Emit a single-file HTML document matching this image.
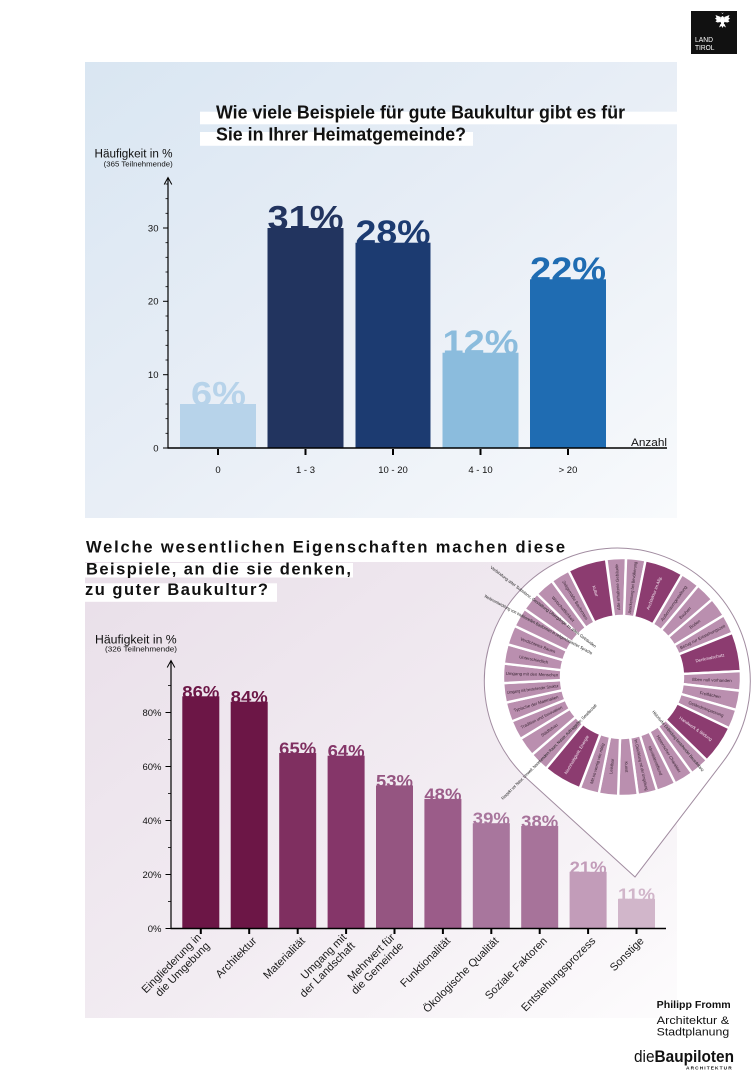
<!DOCTYPE html>
<html>
<head>
<meta charset="utf-8">
<style>
html,body{margin:0;padding:0;background:#fff;}
svg{display:block;}
text{font-family:"Liberation Sans",Arial,sans-serif;}
</style>
</head>
<body>
<svg width="756" height="1080" viewBox="0 0 756 1080" xmlns="http://www.w3.org/2000/svg">
<defs>
<linearGradient id="gb" x1="0" y1="0" x2="1" y2="1">
<stop offset="0" stop-color="#d9e6f2"/>
<stop offset="0.5" stop-color="#e8eef6"/>
<stop offset="1" stop-color="#f8fafc"/>
</linearGradient>
<linearGradient id="gp" x1="0" y1="0" x2="1" y2="1">
<stop offset="0" stop-color="#e9dfe9"/>
<stop offset="0.55" stop-color="#f2ecf2"/>
<stop offset="1" stop-color="#fdfcfd"/>
</linearGradient>
<path id="L" d="M-5.037,-60.79 L-9.827,-118.59 A119,119 0 0 1 9.827,-118.59 L5.037,-60.79 A61,61 0 0 0 -5.037,-60.79 Z" fill="#ba8faf" stroke="#fff" stroke-width="2.4"/>
<path id="D" d="M-10.04,-60.168 L-19.586,-117.377 A119,119 0 0 1 19.586,-117.377 L10.04,-60.168 A61,61 0 0 0 -10.04,-60.168 Z" fill="#8c3c70" stroke="#fff" stroke-width="2.4"/>
</defs>

<!-- LAND TIROL logo -->
<rect x="691" y="11" width="46" height="43" fill="#111"/>
<g fill="#fff">
<ellipse cx="722.5" cy="20.5" rx="2" ry="4.5"/>
<path d="M722.5,14 l-1.2,-1.5 l1.2,0.6 l1.2,-0.6 z"/>
<path d="M720.8,17 L715.5,15 L716.5,17.5 L715,18.5 L716.8,20 L715.5,21.5 L717.5,22.5 L720.8,22 Z"/>
<path d="M724.2,17 L729.5,15 L728.5,17.5 L730,18.5 L728.2,20 L729.5,21.5 L727.5,22.5 L724.2,22 Z"/>
<path d="M720.5,24 L719,27.5 L721.5,26 L722.5,28 L723.5,26 L726,27.5 L724.5,24 Z"/>
</g>
<text x="695" y="42" font-size="7.6" fill="#fff" textLength="18" lengthAdjust="spacingAndGlyphs">LAND</text>
<text x="695" y="50" font-size="7.6" fill="#fff" textLength="19.5" lengthAdjust="spacingAndGlyphs">TIROL</text>

<!-- ============ TOP CHART ============ -->
<rect x="85" y="62" width="592" height="456" fill="url(#gb)"/>
<rect x="200" y="111.7" width="477" height="12.6" fill="#fff"/>
<rect x="200" y="132" width="273" height="13.8" fill="#fff"/>
<text x="216" y="118.5" font-size="18" font-weight="bold" fill="#111" textLength="409" lengthAdjust="spacingAndGlyphs">Wie viele Beispiele für gute Baukultur gibt es für</text>
<text x="216" y="140.5" font-size="18" font-weight="bold" fill="#111" textLength="250" lengthAdjust="spacingAndGlyphs">Sie in Ihrer Heimatgemeinde?</text>

<text x="94.5" y="157.5" font-size="11.5" fill="#111" textLength="78" lengthAdjust="spacingAndGlyphs">Häufigkeit in %</text>
<text x="103.7" y="166.5" font-size="7.3" fill="#111" textLength="69" lengthAdjust="spacingAndGlyphs">(365 Teilnehmende)</text>

<!-- bar labels (behind bars) -->
<g font-weight="bold" font-size="34">
<text x="191" y="405.5" fill="#b7d3ea" textLength="55" lengthAdjust="spacingAndGlyphs">6%</text>
<text x="267.5" y="229.5" fill="#22345f" textLength="76" lengthAdjust="spacingAndGlyphs">31%</text>
<text x="355.5" y="244.2" fill="#1c3b71" textLength="75" lengthAdjust="spacingAndGlyphs">28%</text>
<text x="442.5" y="354.2" fill="#8bbcdd" textLength="76" lengthAdjust="spacingAndGlyphs">12%</text>
<text x="530" y="280.8" fill="#1f6cb2" textLength="76" lengthAdjust="spacingAndGlyphs">22%</text>
</g>
<rect x="180" y="404" width="76" height="44" fill="#b7d3ea"/>
<rect x="267.5" y="228" width="76" height="220" fill="#22345f"/>
<rect x="355.5" y="242.7" width="75" height="205.3" fill="#1c3b71"/>
<rect x="442.5" y="352.7" width="76" height="95.3" fill="#8bbcdd"/>
<rect x="530" y="279.3" width="76" height="168.7" fill="#1f6cb2"/>

<!-- axes -->
<g stroke="#000" fill="none">
<line x1="168" y1="178" x2="168" y2="448.5" stroke-width="1.2"/>
<polyline points="164.2,184.5 168,177.5 171.8,184.5" stroke-width="1"/>
<line x1="167.5" y1="448" x2="667" y2="448" stroke-width="1.6"/>
<g stroke-width="1">
<line x1="163" y1="448" x2="168" y2="448"/>
<line x1="163" y1="374.7" x2="168" y2="374.7"/>
<line x1="163" y1="301.3" x2="168" y2="301.3"/>
<line x1="163" y1="228" x2="168" y2="228"/>
</g>
<g stroke-width="0.8">
<line x1="165.5" y1="433.3" x2="168" y2="433.3"/>
<line x1="165.5" y1="418.7" x2="168" y2="418.7"/>
<line x1="165.5" y1="404" x2="168" y2="404"/>
<line x1="165.5" y1="389.3" x2="168" y2="389.3"/>
<line x1="165.5" y1="360" x2="168" y2="360"/>
<line x1="165.5" y1="345.3" x2="168" y2="345.3"/>
<line x1="165.5" y1="330.7" x2="168" y2="330.7"/>
<line x1="165.5" y1="316" x2="168" y2="316"/>
<line x1="165.5" y1="286.7" x2="168" y2="286.7"/>
<line x1="165.5" y1="272" x2="168" y2="272"/>
<line x1="165.5" y1="257.3" x2="168" y2="257.3"/>
<line x1="165.5" y1="242.7" x2="168" y2="242.7"/>
<line x1="165.5" y1="213.3" x2="168" y2="213.3"/>
<line x1="165.5" y1="198.7" x2="168" y2="198.7"/>
<line x1="165.5" y1="184" x2="168" y2="184"/>
</g>
<g stroke-width="2">
<line x1="218" y1="449" x2="218" y2="455"/>
<line x1="305.5" y1="449" x2="305.5" y2="455"/>
<line x1="393" y1="449" x2="393" y2="455"/>
<line x1="480.5" y1="449" x2="480.5" y2="455"/>
<line x1="568" y1="449" x2="568" y2="455"/>
</g>
</g>
<g font-size="9.5" fill="#111" text-anchor="end">
<text x="158.5" y="451.3">0</text>
<text x="158.5" y="378">10</text>
<text x="158.5" y="304.6">20</text>
<text x="158.5" y="231.3">30</text>
</g>
<g font-size="9.5" fill="#111" text-anchor="middle">
<text x="218" y="473">0</text>
<text x="305.5" y="473">1 - 3</text>
<text x="393" y="473">10 - 20</text>
<text x="480.5" y="473">4 - 10</text>
<text x="568" y="473">&gt; 20</text>
</g>
<text x="631" y="446" font-size="11" fill="#111" textLength="36" lengthAdjust="spacingAndGlyphs">Anzahl</text>

<!-- ============ BOTTOM CHART ============ -->
<rect x="85" y="562" width="592" height="456" fill="url(#gp)"/>
<rect x="80" y="563" width="273" height="14.5" fill="#fff"/>
<rect x="80" y="583.3" width="197" height="18.5" fill="#fff"/>
<text x="86" y="552.7" font-size="16.5" font-weight="bold" fill="#111" textLength="479" lengthAdjust="spacing">Welche wesentlichen Eigenschaften machen diese</text>
<text x="86" y="574.3" font-size="16.5" font-weight="bold" fill="#111" textLength="265" lengthAdjust="spacing">Beispiele, an die sie denken,</text>
<text x="85" y="595" font-size="16.5" font-weight="bold" fill="#111" textLength="183" lengthAdjust="spacing">zu guter Baukultur?</text>

<text x="95" y="643.3" font-size="11.5" fill="#111" textLength="81.7" lengthAdjust="spacingAndGlyphs">Häufigkeit in %</text>
<text x="105" y="651.7" font-size="7.3" fill="#111" textLength="72" lengthAdjust="spacingAndGlyphs">(326 Teilnehmende)</text>

<!-- bar labels -->
<g font-weight="bold" font-size="17.5">
<text x="182.3" y="697.8" fill="#6c1646" textLength="37" lengthAdjust="spacingAndGlyphs">86%</text>
<text x="230.7" y="703.2" fill="#6c1646" textLength="37" lengthAdjust="spacingAndGlyphs">84%</text>
<text x="279.2" y="754.5" fill="#7f2f60" textLength="37" lengthAdjust="spacingAndGlyphs">65%</text>
<text x="327.6" y="757.2" fill="#853669" textLength="37" lengthAdjust="spacingAndGlyphs">64%</text>
<text x="376" y="786.9" fill="#955581" textLength="37" lengthAdjust="spacingAndGlyphs">53%</text>
<text x="424.4" y="800.4" fill="#9b5c89" textLength="37" lengthAdjust="spacingAndGlyphs">48%</text>
<text x="472.8" y="824.7" fill="#a8769d" textLength="37" lengthAdjust="spacingAndGlyphs">39%</text>
<text x="521.2" y="827.4" fill="#a7739a" textLength="37" lengthAdjust="spacingAndGlyphs">38%</text>
<text x="569.6" y="873.3" fill="#c29cb9" textLength="37" lengthAdjust="spacingAndGlyphs">21%</text>
<text x="618" y="900.3" fill="#d1b6ca" textLength="37" lengthAdjust="spacingAndGlyphs">11%</text>
</g>
<rect x="182.3" y="696.3" width="37" height="232.2" fill="#6c1646"/>
<rect x="230.7" y="701.7" width="37" height="226.8" fill="#6c1646"/>
<rect x="279.2" y="753" width="37" height="175.5" fill="#7f2f60"/>
<rect x="327.6" y="755.7" width="37" height="172.8" fill="#853669"/>
<rect x="376" y="785.4" width="37" height="143.1" fill="#955581"/>
<rect x="424.4" y="798.9" width="37" height="129.6" fill="#9b5c89"/>
<rect x="472.8" y="823.2" width="37" height="105.3" fill="#a8769d"/>
<rect x="521.2" y="825.9" width="37" height="102.6" fill="#a7739a"/>
<rect x="569.6" y="871.8" width="37" height="56.7" fill="#c29cb9"/>
<rect x="618" y="898.8" width="37" height="29.7" fill="#d1b6ca"/>

<g stroke="#000" fill="none">
<line x1="171" y1="661" x2="171" y2="929" stroke-width="1.2"/>
<polyline points="167.2,667.5 171,660.5 174.8,667.5" stroke-width="1"/>
<line x1="170.5" y1="928.5" x2="666" y2="928.5" stroke-width="1.6"/>
<g stroke-width="1">
<line x1="165.5" y1="928.5" x2="171" y2="928.5"/>
<line x1="165.5" y1="874.5" x2="171" y2="874.5"/>
<line x1="165.5" y1="820.5" x2="171" y2="820.5"/>
<line x1="165.5" y1="766.5" x2="171" y2="766.5"/>
<line x1="165.5" y1="712.5" x2="171" y2="712.5"/>
</g>
<g stroke-width="0.8">
<line x1="168" y1="901.5" x2="171" y2="901.5"/>
<line x1="168" y1="847.5" x2="171" y2="847.5"/>
<line x1="168" y1="793.5" x2="171" y2="793.5"/>
<line x1="168" y1="739.5" x2="171" y2="739.5"/>
<line x1="168" y1="685.5" x2="171" y2="685.5"/>
</g>
<g stroke-width="2">
<line x1="200.8" y1="929" x2="200.8" y2="934"/>
<line x1="249.2" y1="929" x2="249.2" y2="934"/>
<line x1="297.7" y1="929" x2="297.7" y2="934"/>
<line x1="346.1" y1="929" x2="346.1" y2="934"/>
<line x1="394.5" y1="929" x2="394.5" y2="934"/>
<line x1="442.9" y1="929" x2="442.9" y2="934"/>
<line x1="491.3" y1="929" x2="491.3" y2="934"/>
<line x1="539.7" y1="929" x2="539.7" y2="934"/>
<line x1="588.1" y1="929" x2="588.1" y2="934"/>
<line x1="636.5" y1="929" x2="636.5" y2="934"/>
</g>
</g>
<g font-size="9.5" fill="#111" text-anchor="end">
<text x="161.5" y="931.8">0%</text>
<text x="161.5" y="877.8">20%</text>
<text x="161.5" y="823.8">40%</text>
<text x="161.5" y="769.8">60%</text>
<text x="161.5" y="715.8">80%</text>
</g>

<!-- x labels -->
<g font-size="11" fill="#1a1a1a" text-anchor="end">
<text transform="translate(201.8,938) rotate(-45)">Eingliederung in</text>
<text transform="translate(210.3,946.5) rotate(-45)">die Umgebung</text>
<text transform="translate(257.2,941.5) rotate(-45)">Architektur</text>
<text transform="translate(305.7,941.5) rotate(-45)">Materialität</text>
<text transform="translate(347.1,938) rotate(-45)">Umgang mit</text>
<text transform="translate(355.6,946.5) rotate(-45)">der Landschaft</text>
<text transform="translate(395.5,938) rotate(-45)">Mehrwert für</text>
<text transform="translate(404,946.5) rotate(-45)">die Gemeinde</text>
<text transform="translate(450.9,941.5) rotate(-45)">Funktionalität</text>
<text transform="translate(499.3,941.5) rotate(-45)">Ökologische Qualität</text>
<text transform="translate(547.7,941.5) rotate(-45)">Soziale Faktoren</text>
<text transform="translate(596.1,941.5) rotate(-45)">Entstehungsprozess</text>
<text transform="translate(644.5,941.5) rotate(-45)">Sonstige</text>
</g>

<!-- ============ PIN + DONUT ============ -->
<path d="M635,877 L528.8,780.3 A133,133 0 1 1 722.2,762.8 Z" fill="#fff" stroke="#a18ca0" stroke-width="1"/>

<g transform="translate(622,677)" font-size="4.3" text-anchor="middle">
<g transform="rotate(-2.8)"><use href="#L"/><text transform="translate(0,-90) rotate(-90)" dy="1.5" fill="#3b2735" textLength="46" lengthAdjust="spacingAndGlyphs">Alte erhaltene Gebäude</text></g>
<g transform="rotate(6.7)"><use href="#L"/><text transform="translate(0,-90) rotate(-90)" dy="1.5" fill="#3b2735" textLength="52" lengthAdjust="spacingAndGlyphs">Anerkennung bei Bevölkerung</text></g>
<g transform="rotate(20.9)"><use href="#D"/><text transform="translate(0,-90) rotate(-90)" dy="1.5" fill="#f2e4ee">Architektur im Allg.</text></g>
<g transform="rotate(35.1)"><use href="#L"/><text transform="translate(0,-90) rotate(-90)" dy="1.5" fill="#3b2735">Außenraumgestaltung</text></g>
<g transform="rotate(44.6)"><use href="#L"/><text transform="translate(0,-90) rotate(-90)" dy="1.5" fill="#3b2735">Bauherr</text></g>
<g transform="rotate(54)"><use href="#L"/><text transform="translate(0,-90) rotate(-90)" dy="1.5" fill="#3b2735">Boden</text></g>
<g transform="rotate(63.5)"><use href="#L"/><text transform="translate(0,-90) rotate(-90)" dy="1.5" fill="#3b2735" textLength="50" lengthAdjust="spacingAndGlyphs">Bezug zur Entstehungszeit</text></g>
<g transform="rotate(77.7)"><use href="#D"/><text transform="translate(0,-90) rotate(-90)" dy="1.5" fill="#f2e4ee">Denkmalschutz</text></g>
<g transform="rotate(91.9)"><use href="#L"/><text transform="translate(0,-90) rotate(-90)" dy="1.5" fill="#3b2735">Eben null vorhanden</text></g>
<g transform="rotate(101.4)"><use href="#L"/><text transform="translate(0,-90) rotate(-90)" dy="1.5" fill="#3b2735">Freiflächen</text></g>
<g transform="rotate(110.8)"><use href="#L"/><text transform="translate(0,-90) rotate(-90)" dy="1.5" fill="#3b2735">Geländeanpassung</text></g>
<g transform="rotate(125)"><use href="#D"/><text transform="translate(0,-90) rotate(-90)" dy="1.5" fill="#f2e4ee">Handwerk &amp; Bildung</text></g>
<g transform="rotate(139.2)"><use href="#L"/></g>
<g transform="rotate(148.7)"><use href="#L"/><text transform="translate(0,-90) rotate(-90)" dy="1.5" fill="#3b2735">Historischer Charakter</text></g>
<g transform="rotate(158.2)"><use href="#L"/><text transform="translate(0,-90) rotate(-90)" dy="1.5" fill="#3b2735">Identitätsstiftend</text></g>
<g transform="rotate(167.6)"><use href="#L"/><text transform="translate(0,-90) rotate(-90)" dy="1.5" fill="#3b2735" textLength="52" lengthAdjust="spacingAndGlyphs">Im Gleichklang mit der Umgebung</text></g>
<g transform="rotate(177.1)"><use href="#L"/><text transform="translate(0,-90) rotate(-90)" dy="1.5" fill="#3b2735">Kunst</text></g>
<g transform="rotate(186.6)"><use href="#L"/><text transform="translate(0,-90) rotate(90)" dy="1.5" fill="#3b2735">Leistbar</text></g>
<g transform="rotate(196)"><use href="#L"/><text transform="translate(0,-90) rotate(90)" dy="1.5" fill="#3b2735">Mit so wenig wie nötig</text></g>
<g transform="rotate(210.3)"><use href="#D"/><text transform="translate(0,-90) rotate(90)" dy="1.5" fill="#f2e4ee">Nachhaltigkeit, Energie</text></g>
<g transform="rotate(224.4)"><use href="#L"/></g>
<g transform="rotate(233.9)"><use href="#L"/><text transform="translate(0,-90) rotate(90)" dy="1.5" fill="#3b2735">Städtebau</text></g>
<g transform="rotate(243.4)"><use href="#L"/><text transform="translate(0,-90) rotate(90)" dy="1.5" fill="#3b2735">Tradition und Innovation</text></g>
<g transform="rotate(252.8)"><use href="#L"/><text transform="translate(0,-90) rotate(90)" dy="1.5" fill="#3b2735">Typische der Materialien</text></g>
<g transform="rotate(262.3)"><use href="#L"/><text transform="translate(0,-90) rotate(90)" dy="1.5" fill="#3b2735" textLength="52" lengthAdjust="spacingAndGlyphs">Umgang mit bestehender Struktur</text></g>
<g transform="rotate(271.8)"><use href="#L"/><text transform="translate(0,-90) rotate(90)" dy="1.5" fill="#3b2735">Umgang mit den Menschen</text></g>
<g transform="rotate(281.2)"><use href="#L"/><text transform="translate(0,-90) rotate(90)" dy="1.5" fill="#3b2735">Unterschiedlich</text></g>
<g transform="rotate(290.7)"><use href="#L"/><text transform="translate(0,-90) rotate(90)" dy="1.5" fill="#3b2735">Verdichtetes Bauen</text></g>
<g transform="rotate(300.2)"><use href="#L"/></g>
<g transform="rotate(309.7)"><use href="#L"/></g>
<g transform="rotate(319.1)"><use href="#L"/><text transform="translate(0,-90) rotate(90)" dy="1.5" fill="#3b2735">Wirtschaftlichkeit</text></g>
<g transform="rotate(328.6)"><use href="#L"/><text transform="translate(0,-90) rotate(90)" dy="1.5" fill="#3b2735">Zeitgemäße Bauformen</text></g>
<g transform="rotate(342.8)"><use href="#D"/><text transform="translate(0,-90) rotate(90)" dy="1.5" fill="#f2e4ee">Kultur</text></g>
</g>

<!-- long thin donut labels -->
<g font-size="4.3" fill="#222">
<text transform="translate(490,568) rotate(37.3)" textLength="132" lengthAdjust="spacingAndGlyphs">Verbindung alter Substanz, Gestaltung Übergänge zu alten Gebäuden</text>
<text transform="translate(484,597) rotate(28.2)" textLength="122" lengthAdjust="spacingAndGlyphs">Weiterentwicklung von traditionellen Bauformen in zeitgenössischer Sprache</text>
<text transform="translate(503,800) rotate(-45)" textLength="133" lengthAdjust="spacingAndGlyphs">Respekt vor Natur, Umwelt, bestehendem Raum, Nutzer, Auftraggeber, Gesellschaft</text>
<text transform="translate(652,712) rotate(50)" textLength="78" lengthAdjust="spacingAndGlyphs">Historische Einbindung bestehender Bausubstanz</text>
</g>

<!-- bottom right logos -->
<text x="656.7" y="1008" font-size="10" font-weight="bold" fill="#111" textLength="74" lengthAdjust="spacingAndGlyphs">Philipp Fromm</text>
<text x="656.7" y="1024" font-size="11" fill="#111" textLength="72.5" lengthAdjust="spacingAndGlyphs">Architektur &amp;</text>
<text x="656.7" y="1035.5" font-size="11" fill="#111" textLength="72.5" lengthAdjust="spacingAndGlyphs">Stadtplanung</text>
<text x="634" y="1062" font-size="16.5" fill="#111" textLength="100" lengthAdjust="spacingAndGlyphs">die<tspan font-weight="bold">Baupiloten</tspan></text>
<text x="686" y="1069.5" font-size="4.8" font-weight="bold" fill="#111" textLength="45.7" lengthAdjust="spacing">ARCHITEKTUR</text>
</svg>
</body>
</html>
